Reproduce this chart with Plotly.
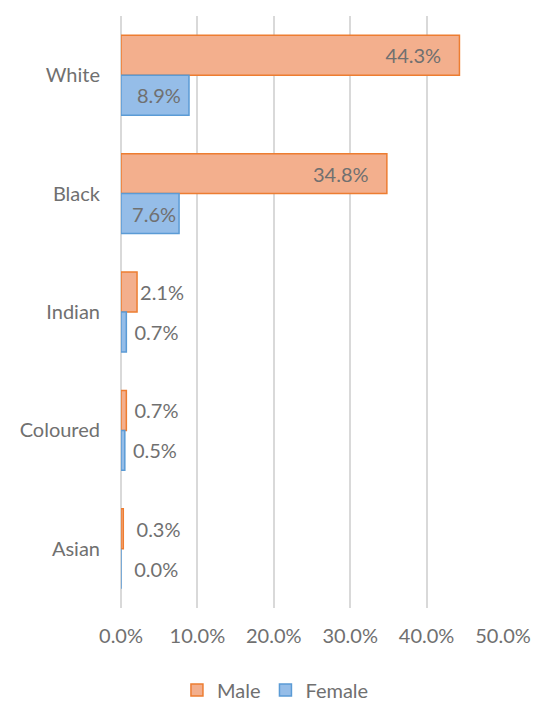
import plotly.graph_objects as go

# Share of population by group and sex (percent)
groups = ["White", "Black", "Indian", "Coloured", "Asian"]
male = [44.3, 34.8, 2.1, 0.7, 0.3]
female = [8.9, 7.6, 0.7, 0.5, 0.0]
x_ticks = [0, 10, 20, 30, 40, 50]
x_tick_labels = ["0.0%", "10.0%", "20.0%", "30.0%", "40.0%", "50.0%"]

FONT = "Lato"
TEXT_GREY = "#707070"
NBSP = "\u00a0"

# Extra spacing (in non-breaking spaces) around each data label
male_pad = [3, 3, 0, 1, 2]
female_pad = [1, 0, 1, 1, 2]


def label_positions(values, threshold=5):
    return ["inside" if v >= threshold else "outside" for v in values]


def label_templates(values, pads, threshold=5):
    out = []
    for v, p in zip(values, pads):
        if v >= threshold:
            out.append("%{x:.1f}%" + NBSP * p)
        else:
            out.append(NBSP * p + "%{x:.1f}%")
    return out


fig = go.Figure()
fig.add_trace(go.Bar(
    name="Male", y=groups, x=male, orientation="h",
    marker=dict(color="#F3AF8D", line=dict(color="#ED7D31", width=1.5)),
    texttemplate=label_templates(male, male_pad),
    textposition=label_positions(male),
    insidetextanchor="end", constraintext="none", cliponaxis=False,
    textfont=dict(family=FONT, size=20, color=TEXT_GREY),
))
fig.add_trace(go.Bar(
    name="Female", y=groups, x=female, orientation="h",
    marker=dict(color="#95BDE8", line=dict(color="#5B9BD5", width=1.5)),
    texttemplate=label_templates(female, female_pad),
    textposition=label_positions(female),
    insidetextanchor="end", constraintext="none", cliponaxis=False,
    textfont=dict(family=FONT, size=20, color=TEXT_GREY),
))

fig.update_layout(
    width=538, height=704,
    margin=dict(l=121, r=35, t=16, b=96),
    paper_bgcolor="white", plot_bgcolor="white",
    barmode="group", bargap=0.325, bargroupgap=0,
    font=dict(family=FONT, size=20, color=TEXT_GREY),
    showlegend=True,
    legend=dict(
        orientation="h", xref="container", yref="container",
        x=0.512, y=0.02, xanchor="center", yanchor="middle",
        font=dict(family=FONT, size=20, color=TEXT_GREY),
        itemwidth=30, tracegroupgap=0,
    ),
)
fig.update_xaxes(
    range=[0, 50], tickvals=x_ticks, ticktext=x_tick_labels,
    automargin=False,
    showgrid=True, gridcolor="#D9D9D9", gridwidth=1.5,
    zeroline=True, zerolinecolor="#D9D9D9", zerolinewidth=1.5,
    showline=False, ticks="", ticklabelstandoff=14,
    tickfont=dict(family=FONT, size=20, color=TEXT_GREY),
)
fig.update_yaxes(
    autorange="reversed", automargin=False,
    showgrid=False, zeroline=False, showline=False,
    ticks="", ticklabelstandoff=20,
    tickfont=dict(family=FONT, size=20, color=TEXT_GREY),
)

fig.write_html("out.html")
